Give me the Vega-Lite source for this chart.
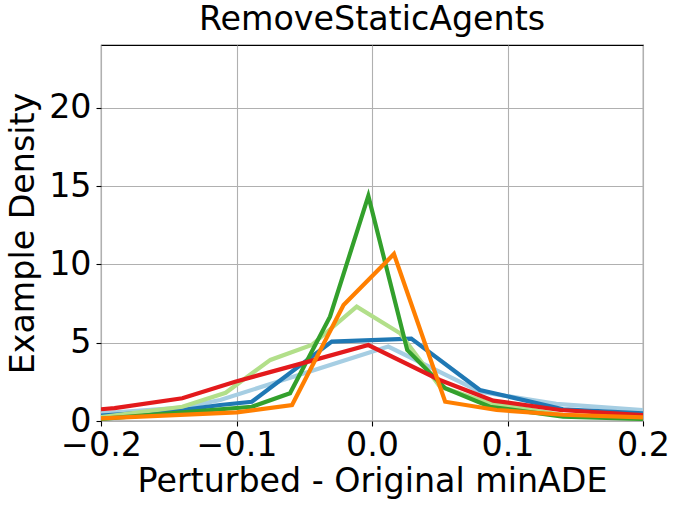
{
  "$schema": "https://vega.github.io/schema/vega-lite/v6.json",
  "autosize": {"type": "none"},
  "width": 542,
  "height": 376,
  "padding": {"left": 101, "top": 45, "right": 36, "bottom": 92},
  "background": "white",
  "title": {"text": "RemoveStaticAgents", "font": "DejaVu Sans", "fontSize": 33.3, "fontWeight": "normal", "color": "black", "offset": 8},
  "config": {
    "view": {"stroke": "black", "strokeWidth": 1.1},
    "axis": {
      "labelFont": "DejaVu Sans", "labelFontSize": 33.3, "labelColor": "black",
      "titleFont": "DejaVu Sans", "titleFontSize": 33.3, "titleFontWeight": "normal", "titleColor": "black",
      "domain": false, "tickColor": "black", "tickSize": 5, "tickWidth": 1.1,
      "gridColor": "#b0b0b0", "gridWidth": 1.1, "gridOpacity": 1
    }
  },
  "data": {"values": [
    {"s": "a", "x": -0.2, "y": 0.49}, {"s": "a", "x": -0.14, "y": 0.85}, {"s": "a", "x": -0.112, "y": 1.34}, {"s": "a", "x": 0.012, "y": 4.75}, {"s": "a", "x": 0.0796, "y": 1.87}, {"s": "a", "x": 0.136, "y": 1.09}, {"s": "a", "x": 0.2, "y": 0.7},
    {"s": "b", "x": -0.2, "y": 0.35}, {"s": "b", "x": -0.14, "y": 0.7}, {"s": "b", "x": -0.112, "y": 1.02}, {"s": "b", "x": -0.0887, "y": 1.23}, {"s": "b", "x": -0.0297, "y": 5.07}, {"s": "b", "x": 0.029, "y": 5.26}, {"s": "b", "x": 0.0796, "y": 1.98}, {"s": "b", "x": 0.141, "y": 0.75}, {"s": "b", "x": 0.2, "y": 0.49},
    {"s": "c", "x": -0.2, "y": 0.25}, {"s": "c", "x": -0.14, "y": 0.91}, {"s": "c", "x": -0.108, "y": 1.8}, {"s": "c", "x": -0.075, "y": 3.9}, {"s": "c", "x": -0.0445, "y": 4.85}, {"s": "c", "x": -0.0113, "y": 7.3}, {"s": "c", "x": 0.0207, "y": 5.6}, {"s": "c", "x": 0.05, "y": 2.2}, {"s": "c", "x": 0.087, "y": 1.13}, {"s": "c", "x": 0.141, "y": 0.38}, {"s": "c", "x": 0.2, "y": 0.13},
    {"s": "d", "x": -0.2, "y": 0.13}, {"s": "d", "x": -0.0887, "y": 0.91}, {"s": "d", "x": -0.0605, "y": 1.77}, {"s": "d", "x": -0.031, "y": 6.66}, {"s": "d", "x": -0.0027, "y": 14.37}, {"s": "d", "x": 0.026, "y": 4.53}, {"s": "d", "x": 0.054, "y": 2.09}, {"s": "d", "x": 0.087, "y": 0.91}, {"s": "d", "x": 0.141, "y": 0.28}, {"s": "d", "x": 0.2, "y": 0.13},
    {"s": "e", "x": -0.2, "y": 0.75}, {"s": "e", "x": -0.19, "y": 0.82}, {"s": "e", "x": -0.14, "y": 1.45}, {"s": "e", "x": -0.101, "y": 2.51}, {"s": "e", "x": -0.047, "y": 3.79}, {"s": "e", "x": -0.0027, "y": 4.85}, {"s": "e", "x": 0.05, "y": 2.62}, {"s": "e", "x": 0.0895, "y": 1.3}, {"s": "e", "x": 0.139, "y": 0.7}, {"s": "e", "x": 0.2, "y": 0.38},
    {"s": "f", "x": -0.2, "y": 0.17}, {"s": "f", "x": -0.0998, "y": 0.55}, {"s": "f", "x": -0.059, "y": 1.02}, {"s": "f", "x": -0.021, "y": 7.4}, {"s": "f", "x": 0.0162, "y": 10.66}, {"s": "f", "x": 0.054, "y": 1.23}, {"s": "f", "x": 0.092, "y": 0.7}, {"s": "f", "x": 0.141, "y": 0.4}, {"s": "f", "x": 0.2, "y": 0.23}
  ]},
  "mark": {"type": "line", "strokeWidth": 4.2, "clip": true},
  "encoding": {
    "x": {"field": "x", "type": "quantitative", "scale": {"domain": [-0.2, 0.2], "nice": false, "zero": false},
      "axis": {"title": "Perturbed - Original minADE", "values": [-0.2, -0.1, 0, 0.1, 0.2], "format": ".1f", "labelExpr": "replace(datum.label, '-', '\u2212')", "labelPadding": 3, "titlePadding": 4, "labelFlush": false}},
    "y": {"field": "y", "type": "quantitative", "scale": {"domain": [0, 24], "nice": false},
      "axis": {"title": "Example Density", "values": [0, 5, 10, 15, 20], "labelPadding": 5, "titlePadding": 8}},
    "color": {"field": "s", "type": "nominal", "legend": null,
      "scale": {"domain": ["a", "b", "c", "d", "e", "f"], "range": ["#a6cee3", "#1f78b4", "#b2df8a", "#33a02c", "#e31a1c", "#ff7f00"]}},
    "order": {"field": "s"}
  }
}
